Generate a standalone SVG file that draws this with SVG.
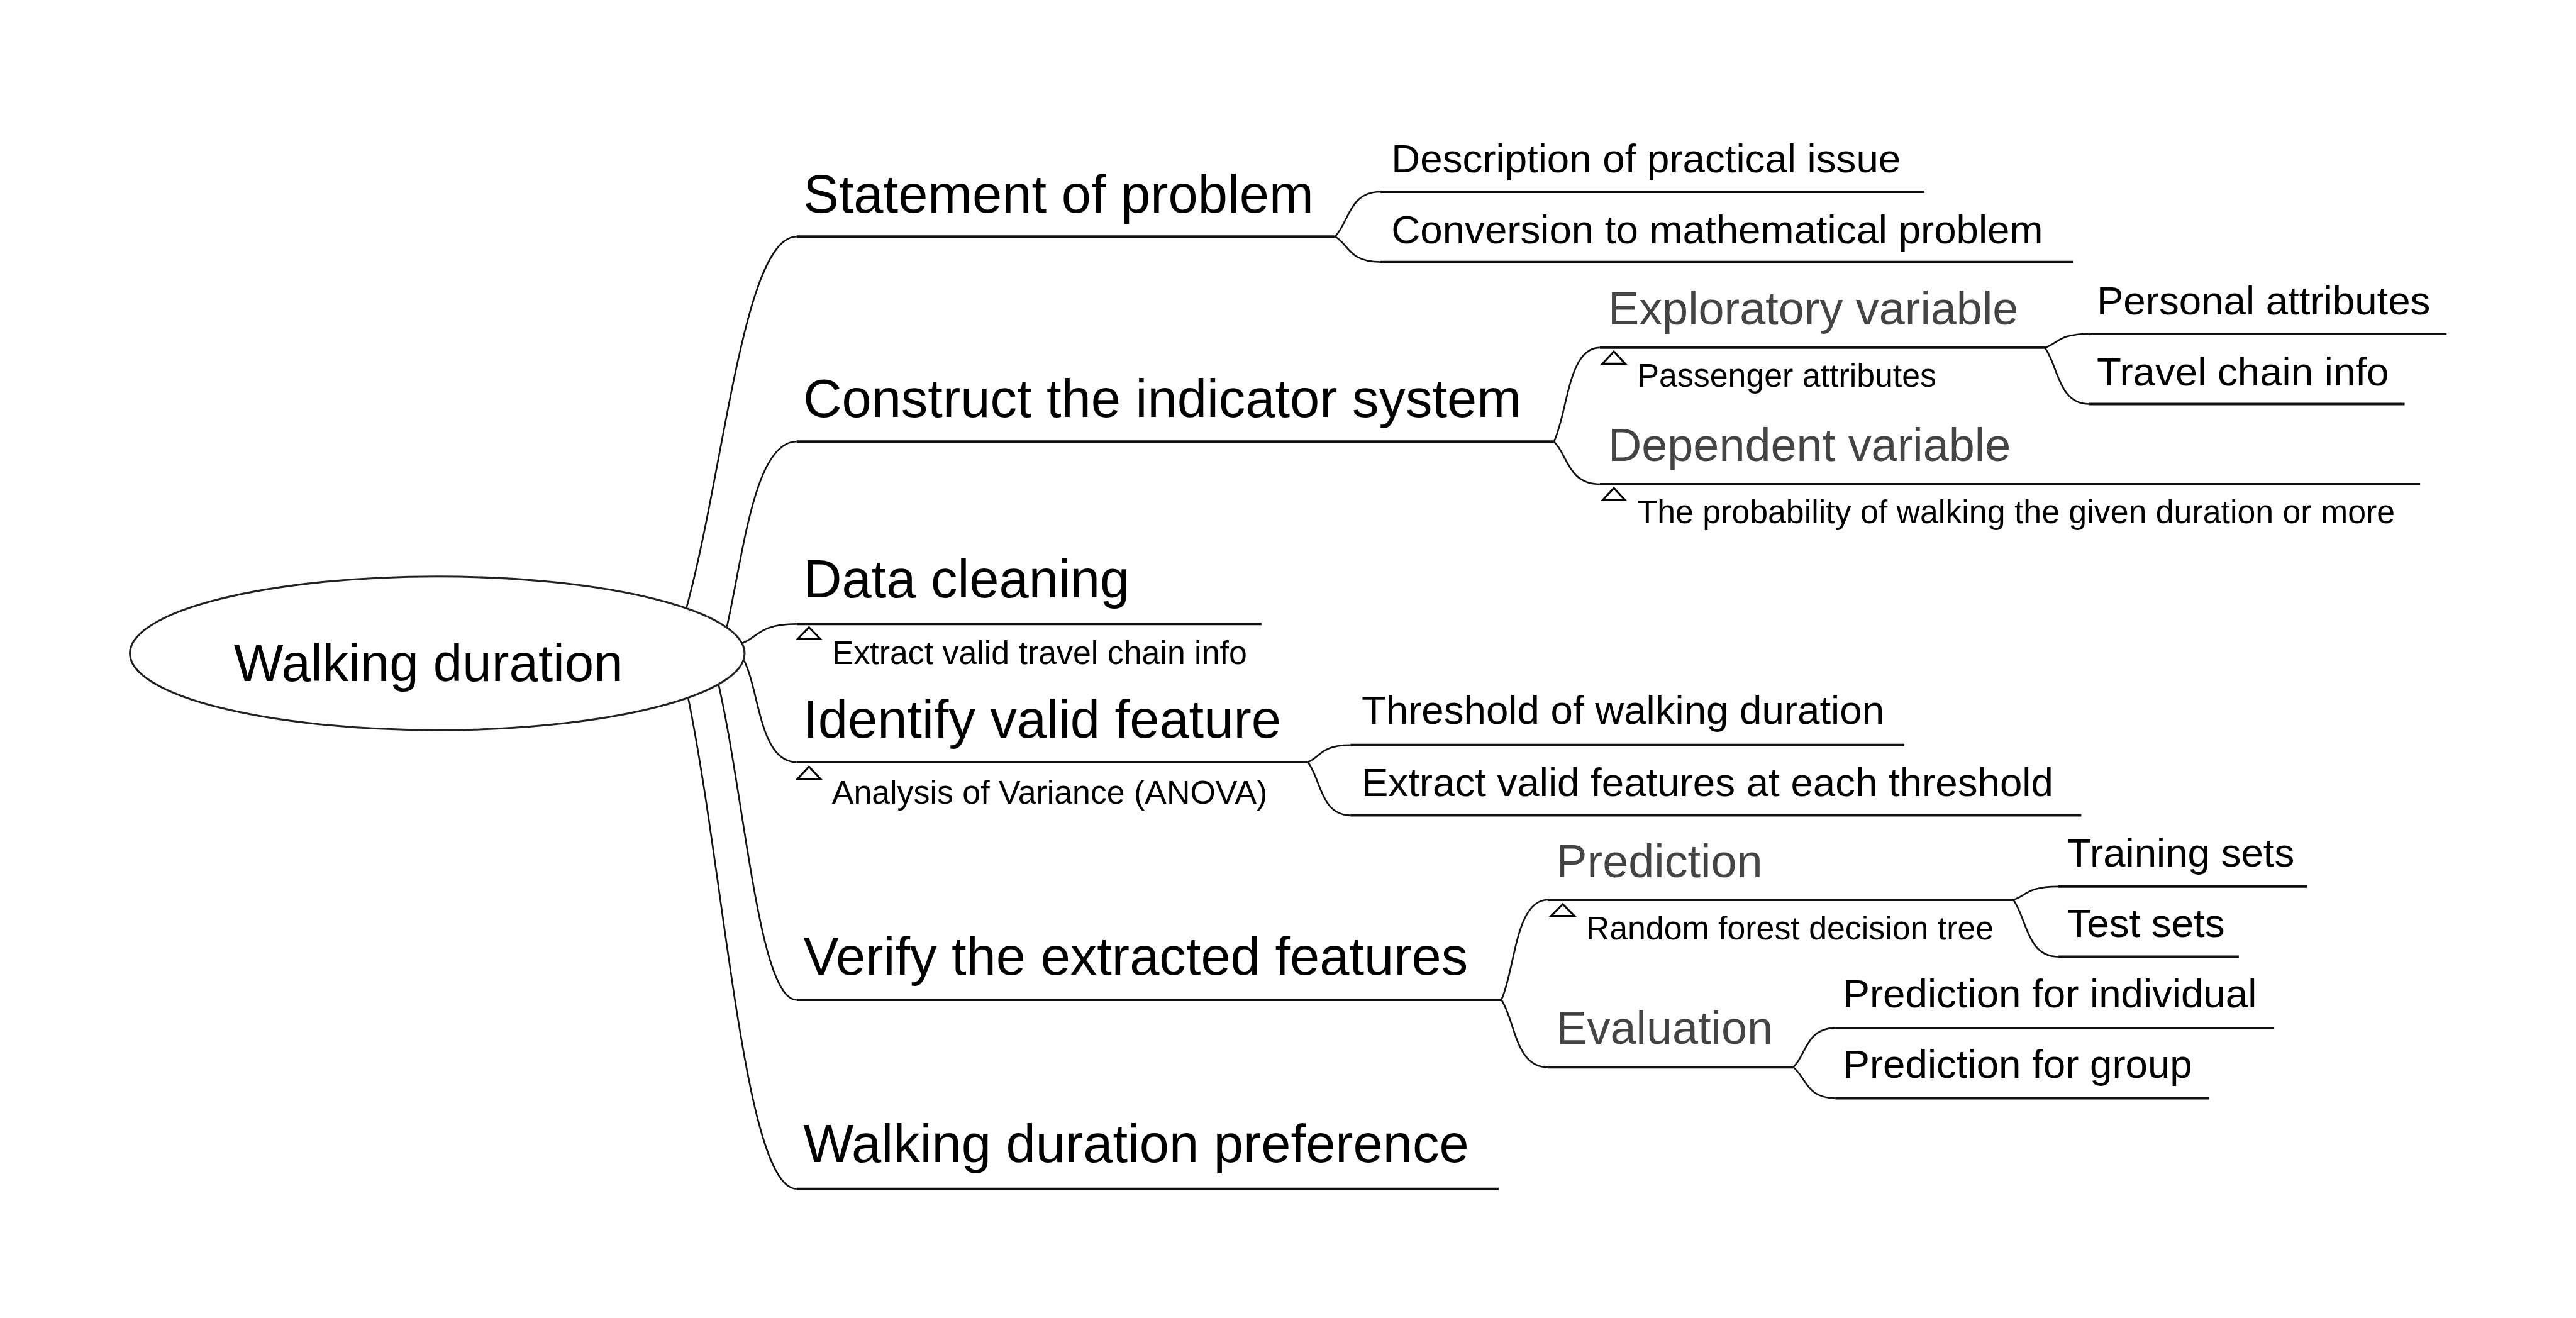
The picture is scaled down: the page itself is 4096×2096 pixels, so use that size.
<svg xmlns="http://www.w3.org/2000/svg" width="4096" height="2096" viewBox="0 0 4096 2096">
<style>
text{font-family:"Liberation Sans",Arial,Helvetica,sans-serif;fill:#000}
.root{font-size:95px}
.l1{font-size:96.6px}
.l2{font-size:72.4px}
.g2{font-size:84px;fill:#444}
.note{font-size:59px}
.ln{stroke:#111;stroke-width:4.5;fill:none}
.cn{stroke:#111;stroke-width:3;fill:none}
.tri{fill:#fff;stroke:#000;stroke-width:3.5}
</style>
<rect width="4096" height="2096" fill="#fff"/>
<g transform="scale(0.87897)">
<g id="connectors">
<path class="cn" d="M1242,1099 C1310,851 1345,428 1441,428"/>
<path class="cn" d="M1315,1134 C1345,1000 1365,799 1441,799"/>
<path class="cn" d="M1342,1164 C1372,1153 1372,1129 1441,1129"/>
<path class="cn" d="M1346,1195 C1374,1250 1374,1379 1441,1379"/>
<path class="cn" d="M1300,1239 C1348,1450 1373,1809 1441,1809"/>
<path class="cn" d="M1245,1263 C1312,1592 1347,2151 1441,2151"/>
<path class="cn" d="M2415,428 C2440,404 2440,347 2497,347"/>
<path class="cn" d="M2415,428 C2440,442 2440,474 2497,474"/>
<path class="cn" d="M2811,799 C2836,748 2836,629 2894,629"/>
<path class="cn" d="M2811,799 C2836,822 2836,876 2894,876"/>
<path class="cn" d="M3699,629 C3723,622 3723,604 3779,604"/>
<path class="cn" d="M3699,629 C3723,660 3723,731 3779,731"/>
<path class="cn" d="M2366,1379 C2389,1370 2389,1348 2443,1348"/>
<path class="cn" d="M2366,1379 C2389,1408 2389,1475 2443,1475"/>
<path class="cn" d="M2716,1809 C2741,1755 2741,1628 2800,1628"/>
<path class="cn" d="M2716,1809 C2741,1846 2741,1931 2800,1931"/>
<path class="cn" d="M3642,1628 C3666,1621 3666,1604 3723,1604"/>
<path class="cn" d="M3642,1628 C3666,1659 3666,1731 3723,1731"/>
<path class="cn" d="M3244,1931 C3267,1910 3267,1860 3320,1860"/>
<path class="cn" d="M3244,1931 C3267,1948 3267,1987 3320,1987"/>
</g>
<g id="root">
<ellipse cx="791" cy="1182" rx="556" ry="139" fill="#fff" stroke="#222" stroke-width="3.5"/>
<text class="root" x="775" y="1232" text-anchor="middle">Walking duration</text>
</g>
<g id="statement">
<text class="l1" x="1453" y="384">Statement of problem</text>
<line class="ln" x1="1441" y1="428" x2="2415" y2="428"/>
</g>
<g id="description">
<text class="l2" x="2517" y="312">Description of practical issue</text>
<line class="ln" x1="2497" y1="347" x2="3481" y2="347"/>
</g>
<g id="conversion">
<text class="l2" x="2517" y="440">Conversion to mathematical problem</text>
<line class="ln" x1="2497" y1="474" x2="3750" y2="474"/>
</g>
<g id="construct">
<text class="l1" x="1453" y="754">Construct the indicator system</text>
<line class="ln" x1="1441" y1="799" x2="2811" y2="799"/>
</g>
<g id="exploratory">
<text class="g2" x="2909" y="587">Exploratory variable</text>
<line class="ln" x1="2894" y1="629" x2="3699" y2="629"/>
<polygon class="tri" points="2919.5,636 2899,658 2940,658"/>
<text class="note" x="2962" y="700">Passenger attributes</text>
</g>
<g id="personal">
<text class="l2" x="3793" y="569">Personal attributes</text>
<line class="ln" x1="3779" y1="604" x2="4426" y2="604"/>
</g>
<g id="travelchain">
<text class="l2" x="3793" y="697">Travel chain info</text>
<line class="ln" x1="3779" y1="731" x2="4350" y2="731"/>
</g>
<g id="dependent">
<text class="g2" x="2909" y="834">Dependent variable</text>
<line class="ln" x1="2894" y1="876" x2="4378" y2="876"/>
<polygon class="tri" points="2919.5,883 2899,905 2940,905"/>
<text class="note" x="2962" y="946">The probability of walking the given duration or more</text>
</g>
<g id="datacleaning">
<text class="l1" x="1453" y="1081">Data cleaning</text>
<line class="ln" x1="1441" y1="1129" x2="2282" y2="1129"/>
<polygon class="tri" points="1463.5,1135 1443,1156 1484,1156"/>
<text class="note" x="1505" y="1201">Extract valid travel chain info</text>
</g>
<g id="identify">
<text class="l1" x="1453" y="1334">Identify valid feature</text>
<line class="ln" x1="1441" y1="1379" x2="2366" y2="1379"/>
<polygon class="tri" points="1463.5,1387 1443,1409 1484,1409"/>
<text class="note" x="1505" y="1454">Analysis of Variance (ANOVA)</text>
</g>
<g id="threshold">
<text class="l2" x="2463" y="1309">Threshold of walking duration</text>
<line class="ln" x1="2443" y1="1348" x2="3445" y2="1348"/>
</g>
<g id="extractfeatures">
<text class="l2" x="2463" y="1440">Extract valid features at each threshold</text>
<line class="ln" x1="2443" y1="1475" x2="3765" y2="1475"/>
</g>
<g id="verify">
<text class="l1" x="1453" y="1763">Verify the extracted features</text>
<line class="ln" x1="1441" y1="1809" x2="2716" y2="1809"/>
</g>
<g id="prediction">
<text class="g2" x="2815" y="1587">Prediction</text>
<line class="ln" x1="2800" y1="1628" x2="3642" y2="1628"/>
<polygon class="tri" points="2827,1636 2806,1657 2848,1657"/>
<text class="note" x="2869" y="1700">Random forest decision tree</text>
</g>
<g id="training">
<text class="l2" x="3739" y="1568">Training sets</text>
<line class="ln" x1="3723" y1="1604" x2="4173" y2="1604"/>
</g>
<g id="test">
<text class="l2" x="3739" y="1695">Test sets</text>
<line class="ln" x1="3723" y1="1731" x2="4050" y2="1731"/>
</g>
<g id="evaluation">
<text class="g2" x="2815" y="1889">Evaluation</text>
<line class="ln" x1="2800" y1="1931" x2="3244" y2="1931"/>
</g>
<g id="individual">
<text class="l2" x="3334" y="1823">Prediction for individual</text>
<line class="ln" x1="3320" y1="1860" x2="4114" y2="1860"/>
</g>
<g id="group">
<text class="l2" x="3334" y="1950">Prediction for group</text>
<line class="ln" x1="3320" y1="1987" x2="3996" y2="1987"/>
</g>
<g id="preference">
<text class="l1" x="1453" y="2103">Walking duration preference</text>
<line class="ln" x1="1441" y1="2151" x2="2711" y2="2151"/>
</g>
</g>
</svg>
